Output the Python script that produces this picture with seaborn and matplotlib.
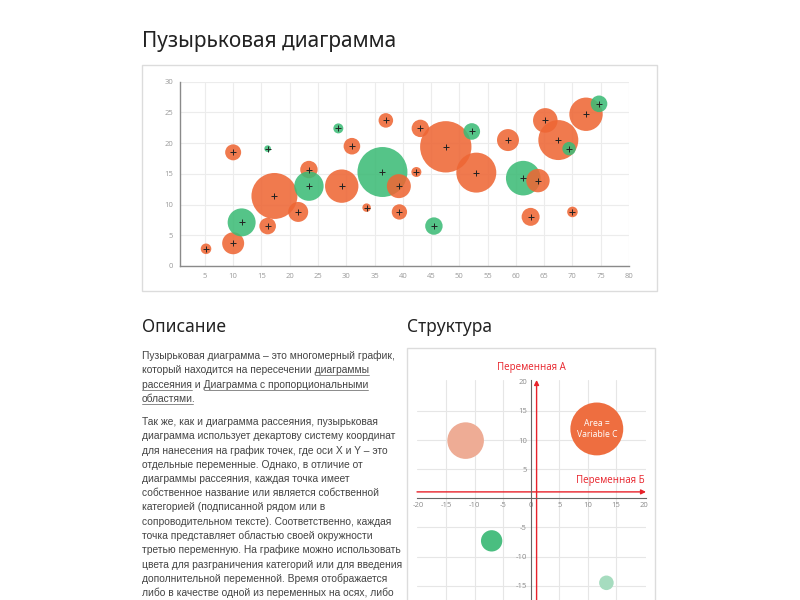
import matplotlib
matplotlib.use("Agg")
import matplotlib.pyplot as plt
import seaborn as sns
import pandas as pd
from matplotlib.patches import Rectangle

# данные основного пузырькового графика
bx = [5.2, 10.0, 11.5, 10.0, 16.1, 16.1, 17.3, 21.5, 23.4, 23.4, 28.6, 29.2, 31.0, 33.6, 36.4, 37.0,
      39.3, 39.4, 42.4, 43.1, 45.5, 47.6, 52.2, 53.0, 58.6, 61.3, 63.9, 62.6, 65.2, 67.5, 69.4, 70.0, 72.4, 74.7]
by = [2.8, 3.7, 7.1, 18.5, 19.1, 6.5, 11.4, 8.8, 15.7, 13.0, 22.4, 13.0, 19.5, 9.5, 15.3, 23.7,
      13.0, 8.8, 15.3, 22.4, 6.5, 19.4, 21.9, 15.2, 20.5, 14.3, 13.9, 8.0, 23.7, 20.5, 19.1, 8.8, 24.7, 26.4]
bc = [28, 121, 196, 64, 11, 69, 529, 100, 76, 216, 25, 279, 69, 18, 625, 53,
      144, 59, 25, 76, 76, 660, 69, 400, 121, 300, 137, 81, 151, 400, 45, 28, 279, 69]
group = ['A', 'A', 'B', 'A', 'B', 'A', 'A', 'A', 'A', 'B', 'B', 'A', 'A', 'A', 'B', 'A',
         'A', 'A', 'A', 'A', 'B', 'A', 'B', 'A', 'A', 'B', 'A', 'A', 'A', 'A', 'B', 'A', 'A', 'B']
x_ticks = [5, 10, 15, 20, 25, 30, 35, 40, 45, 50, 55, 60, 65, 70, 75, 80]
y_ticks = [0, 5, 10, 15, 20, 25, 30]

# данные схемы "Структура"
sx = [-11.6, 11.6, -7.0, 13.3]
sy = [9.9, 11.9, -7.3, -14.5]
sc = [335, 713, 114, 53]
skind = ['pale orange', 'orange', 'green', 'pale green']
s_xticks = [-20, -15, -10, -5, 0, 5, 10, 15, 20]
s_yticks = [-15, -10, -5, 5, 10, 15, 20]
s_grid = [-15, -10, -5, 5, 10, 15]

title = "Пузырьковая диаграмма"
para1 = [
    [("Пузырьковая диаграмма – это многомерный график,", False)],
    [("который находится на пересечении ", False), ("диаграммы", True)],
    [("рассеяния", True), (" и ", False), ("Диаграмма с пропорциональными", True)],
    [("областями", True), (".", False)],
]
para2 = [
    "Так же, как и диаграмма рассеяния, пузырьковая",
    "диаграмма использует декартову систему координат",
    "для нанесения на график точек, где оси X и Y – это",
    "отдельные переменные. Однако, в отличие от",
    "диаграммы рассеяния, каждая точка имеет",
    "собственное название или является собственной",
    "категорией (подписанной рядом или в",
    "сопроводительном тексте). Соответственно, каждая",
    "точка представляет областью своей окружности",
    "третью переменную. На графике можно использовать",
    "цвета для разграничения категорий или для введения",
    "дополнительной переменной. Время отображается",
    "либо в качестве одной из переменных на осях, либо",
]

sns.set_style("white")
plt.rcParams['font.family'] = ['Liberation Sans', 'DejaVu Sans']
plt.rcParams['axes.unicode_minus'] = False

ORANGE = '#EE6634'
GREEN = '#3CBB76'
RED = '#E8222A'
W, H = 800, 600

fig = plt.figure(figsize=(8, 6), dpi=100)
fig.patch.set_facecolor('white')


def fx(px):
    return px / W


def fy(py):
    return 1 - py / H


# заголовок
fig.text(fx(142), fy(47), title, fontsize=15, color='#222222',
         family=['Noto Sans', 'DejaVu Sans'], va='baseline')

# рамка графика
fig.patches.append(Rectangle((fx(142), fy(291)), 515 / W, 226 / H, transform=fig.transFigure,
                             fill=False, edgecolor='#dcdcdc', lw=1))

# основной график
ax = fig.add_axes([fx(180), fy(266), 449 / W, 184.3 / H])
df = pd.DataFrame({'x': bx, 'y': by, 'c': bc, 'g': group})
cmax = 700
sns.scatterplot(data=df, x='x', y='y', hue='g', size='c', palette={'A': ORANGE, 'B': GREEN},
                sizes=(0, cmax * 2.07), size_norm=(0, cmax), alpha=0.87, linewidth=0,
                legend=False, ax=ax, zorder=3)
sns.scatterplot(data=df, x='x', y='y', marker='+', s=16, color='#222222', linewidth=0.7,
                legend=False, ax=ax, zorder=4)
ax.set_xlim(0.6, 80)
ax.set_ylim(0, 30)
ax.set_xticks(x_ticks)
ax.set_yticks(y_ticks)
ax.grid(True, color='#ececec', lw=0.8)
ax.set_axisbelow(True)
for s in ['top', 'right']:
    ax.spines[s].set_visible(False)
for s in ['left', 'bottom']:
    ax.spines[s].set_color('#8a8a8a')
    ax.spines[s].set_linewidth(1)
ax.tick_params(length=0, pad=5, labelsize=5.5, labelcolor='#9a9a9a')
for lab in ax.get_xticklabels() + ax.get_yticklabels():
    lab.set_family(['Open Sans', 'DejaVu Sans'])
ax.set_xlabel('')
ax.set_ylabel('')
ax.set_facecolor('white')

# заголовки колонок
head_font = dict(fontsize=12.5, color='#222222', family=['Noto Sans', 'DejaVu Sans'],
                 va='baseline', fontweight='medium')
fig.text(fx(142), fy(332), "Описание", **head_font)
fig.text(fx(407), fy(332), "Структура", **head_font)

# текст описания
renderer = fig.canvas.get_renderer()
body = dict(fontsize=7.4, color='#444444', va='baseline')


def text_width(s):
    t = fig.text(0, 0, s, **body)
    w = t.get_window_extent(renderer).width
    t.remove()
    return w


def draw_line(x, y, segs):
    full = ''.join(s for s, _ in segs)
    fig.text(fx(x), fy(y), full, **body)
    prefix = ''
    for s, link in segs:
        prefix += s
        if link:
            end = text_width(prefix)
            start = end - text_width(s)
            fig.lines.append(plt.Line2D([fx(x + start), fx(x + end)], [fy(y + 2), fy(y + 2)],
                                        transform=fig.transFigure, color='#777777', lw=0.6))


step = 14.25
for i, segs in enumerate(para1):
    draw_line(142, 359 + i * step, segs)
for i, line in enumerate(para2):
    draw_line(142, 425 + i * step, [(line, False)])

# рамка схемы
fig.patches.append(Rectangle((fx(407), -0.05), 248 / W, fy(348) + 0.05, transform=fig.transFigure,
                             fill=False, edgecolor='#dcdcdc', lw=1))

# схема "Структура"
ax2 = fig.add_axes([fx(417), 0, 229 / W, 220 / H])
ax2.set_xlim(-20.2, 20.3)
ax2.set_ylim(-17.45, 20.3)
for g in s_grid:
    ax2.axvline(g, color='#e6e6e6', lw=0.8, zorder=0)
    ax2.axhline(g, color='#e6e6e6', lw=0.8, zorder=0)
sdf = pd.DataFrame({'x': sx, 'y': sy, 'c': sc, 'k': skind})
spal = {'pale orange': '#EEAC95', 'orange': '#EE6E40', 'green': '#4ABE80', 'pale green': '#A6DCBF'}
sns.scatterplot(data=sdf, x='x', y='y', hue='k', size='c', palette=spal,
                sizes=(0, cmax * 2.07), size_norm=(0, cmax), linewidth=0,
                legend=False, ax=ax2, zorder=3)
ax2.text(sx[1], sy[1], "Area =\nVariable C", color='white', fontsize=6.2,
         ha='center', va='center', family=['Open Sans', 'DejaVu Sans'], zorder=4, linespacing=1.3)
for s in ['top', 'right']:
    ax2.spines[s].set_visible(False)
for s in ['left', 'bottom']:
    ax2.spines[s].set_position(('data', 0))
    ax2.spines[s].set_color('#666666')
    ax2.spines[s].set_linewidth(0.8)
ax2.set_xticks(s_xticks)
ax2.set_yticks(s_yticks)
ax2.tick_params(length=0, pad=3, labelsize=5.5, labelcolor='#8a8a8a')
for lab in ax2.get_xticklabels() + ax2.get_yticklabels():
    lab.set_family(['Open Sans', 'DejaVu Sans'])
ax2.set_xlabel('')
ax2.set_ylabel('')
ax2.patch.set_alpha(0)

# красные оси-стрелки
arrow = dict(arrowstyle='-|>', color=RED, lw=1, mutation_scale=7, shrinkA=0, shrinkB=0)
ax2.annotate('', xy=(0.95, 20.3), xytext=(0.95, -17.45), arrowprops=arrow, zorder=2)
ax2.annotate('', xy=(20.3, 1.1), xytext=(-20.2, 1.1), arrowprops=arrow, zorder=2)
red_font = dict(color=RED, fontsize=7, family=['Open Sans', 'DejaVu Sans'], va='center')
ax2.text(0, 22.5, "Переменная А", ha='center', **red_font)
ax2.text(20.1, 3.0, "Переменная Б", ha='right', **red_font)

fig.savefig("out.png", dpi=100, facecolor='white')
